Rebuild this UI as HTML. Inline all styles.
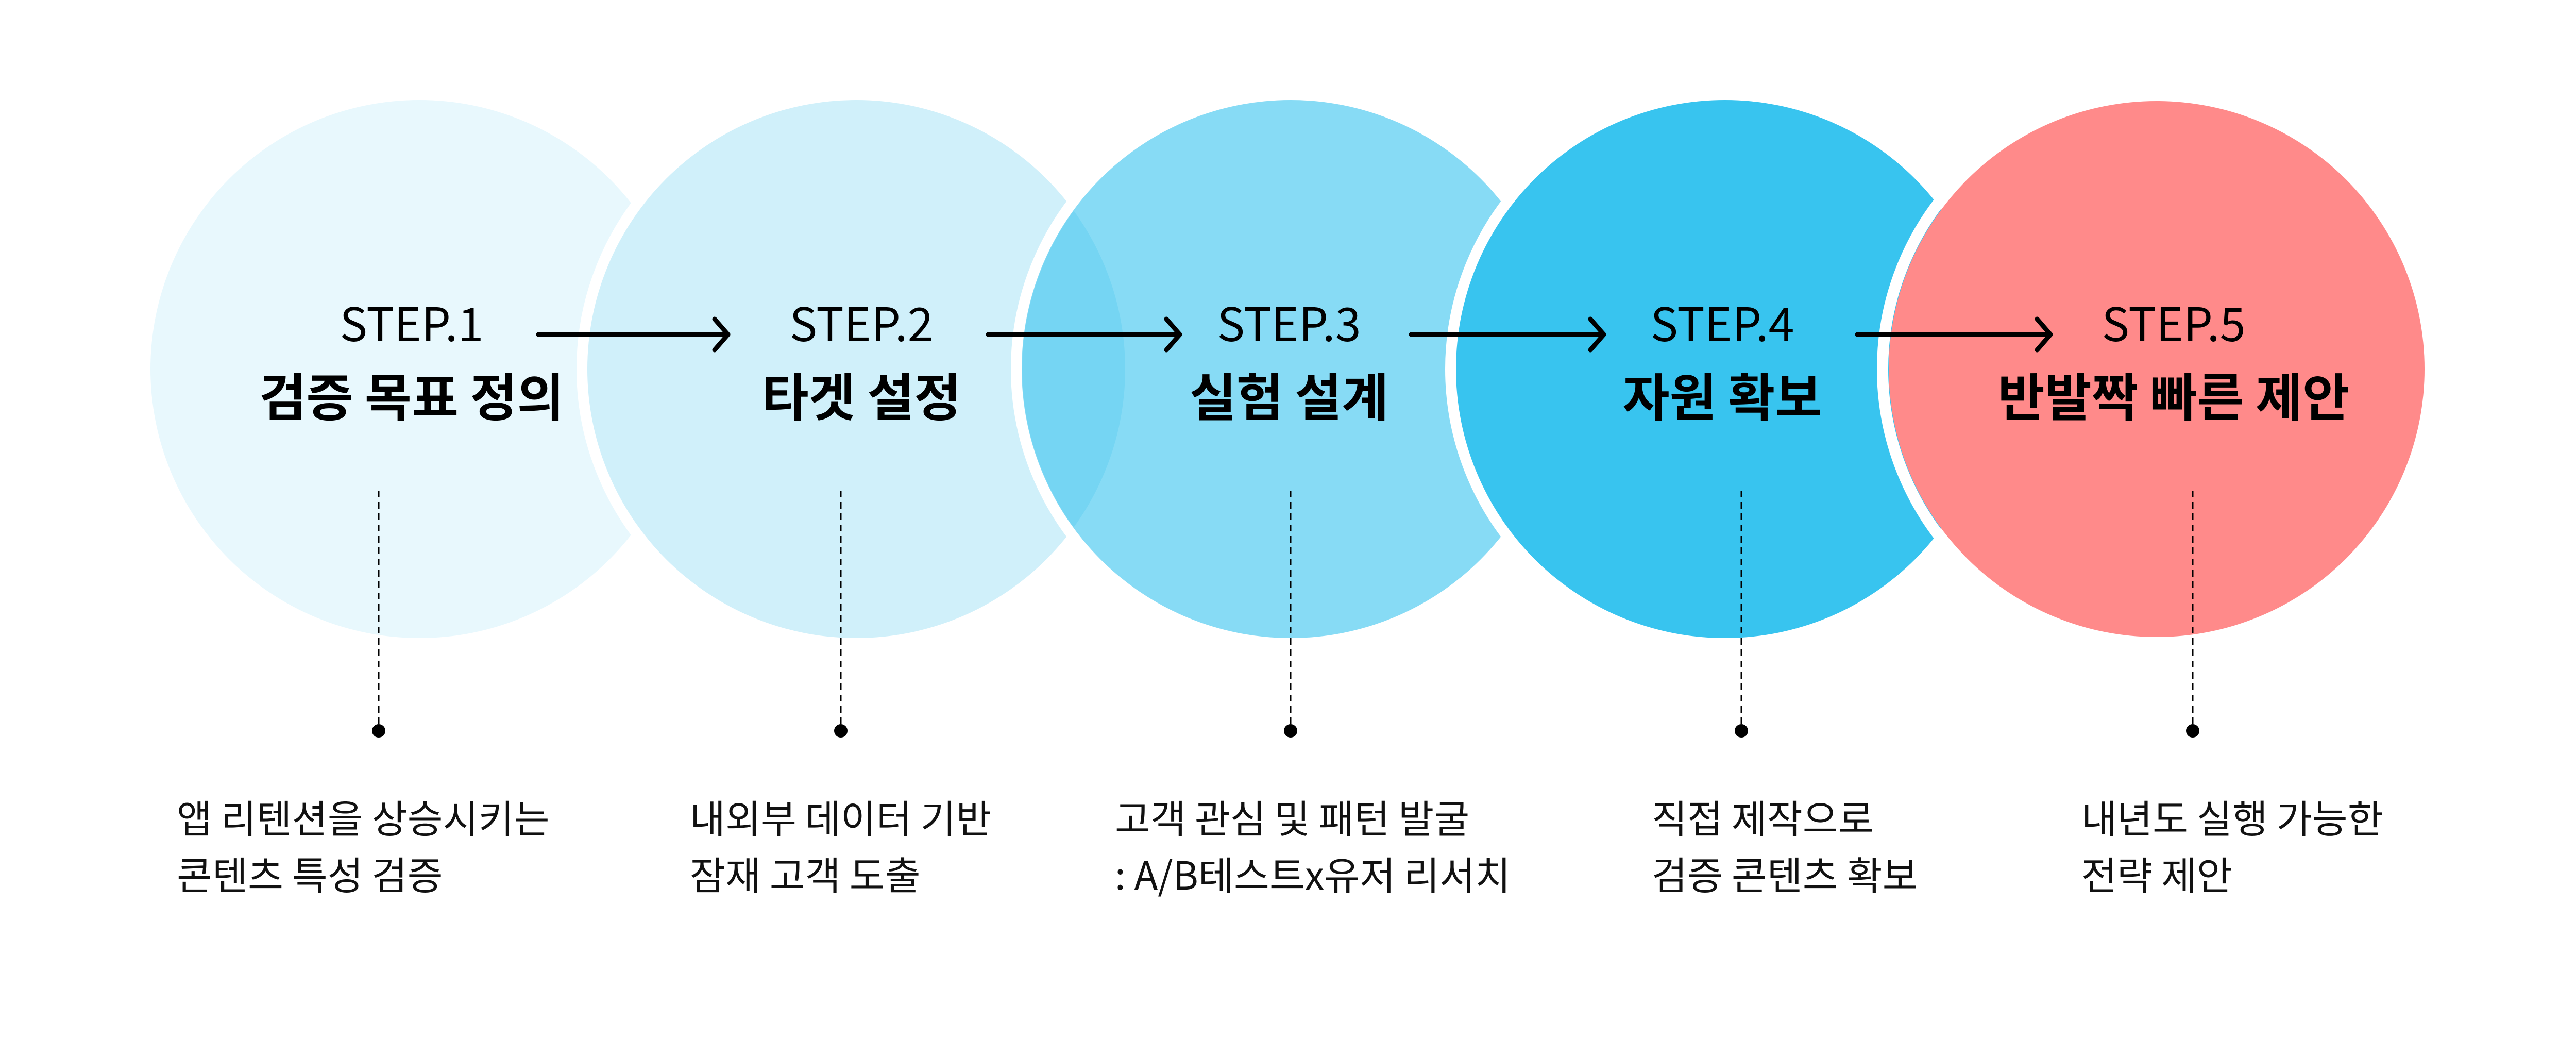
<!DOCTYPE html>
<html><head><meta charset="utf-8"><style>
html,body{margin:0;padding:0;background:#fff;}
svg{display:block;}
text{font-family:"Liberation Sans","Noto Sans CJK KR",sans-serif;}
.step{font-family:"Noto Sans CJK KR","Liberation Sans",sans-serif;font-weight:400;font-size:90px;fill:#000;}
.title{font-family:"Noto Sans CJK KR","Liberation Sans",sans-serif;font-weight:700;font-size:99px;fill:#000;}
.desc{font-family:"Noto Sans CJK KR","Liberation Sans",sans-serif;font-weight:400;font-size:75px;fill:#111;}
</style></head><body>
<svg width="5012" height="2014" viewBox="0 0 5012 2014" xmlns="http://www.w3.org/2000/svg">
<rect width="5012" height="2014" fill="#fff"/>
<circle cx="814" cy="716" r="522" fill="#e8f8fd"/>
<circle cx="1662" cy="716" r="532" fill="none" stroke="#fff" stroke-width="22"/>
<circle cx="1662" cy="716" r="522" fill="#d0f0fa"/>
<circle cx="2505" cy="716" r="532" fill="none" stroke="#fff" stroke-width="22"/>
<circle cx="2505" cy="716" r="522" fill="rgb(60,197,239)" fill-opacity="0.617"/>
<circle cx="3348" cy="716" r="532" fill="none" stroke="#fff" stroke-width="22"/>
<circle cx="3348" cy="716" r="522" fill="#38c4ef"/>
<circle cx="4186" cy="716" r="532" fill="none" stroke="#fff" stroke-width="22"/>
<circle cx="4186" cy="716" r="520" fill="#ff8a8a"/>

<g stroke="#000" stroke-width="9" fill="none" stroke-linecap="round" stroke-linejoin="round">
<line x1="1045" y1="649" x2="1413" y2="649"/><polyline points="1387,619 1413,649 1387,679"/>
<line x1="1918" y1="649" x2="2290" y2="649"/><polyline points="2264,619 2290,649 2264,679"/>
<line x1="2739" y1="649" x2="3113" y2="649"/><polyline points="3087,619 3113,649 3087,679"/>
<line x1="3605" y1="649" x2="3980" y2="649"/><polyline points="3954,619 3980,649 3954,679"/>
</g>

<g text-anchor="middle">
<text class="step" x="799" y="662">STEP.1</text>
<text class="title" x="799" y="807">검증 목표 정의</text>
<text class="step" x="1672" y="662">STEP.2</text>
<text class="title" x="1672" y="807">타겟 설정</text>
<text class="step" x="2502" y="662">STEP.3</text>
<text class="title" x="2502" y="807">실험 설계</text>
<text class="step" x="3343" y="662">STEP.4</text>
<text class="title" x="3343" y="807">자원 확보</text>
<text class="step" x="4219" y="662">STEP.5</text>
<text class="title" x="4219" y="807">반발짝 빠른 제안</text>
</g>

<g stroke="#000" stroke-width="3" stroke-dasharray="13 9">
<line x1="735" y1="952" x2="735" y2="1405"/>
<line x1="1632" y1="952" x2="1632" y2="1405"/>
<line x1="2505" y1="952" x2="2505" y2="1405"/>
<line x1="3380" y1="952" x2="3380" y2="1405"/>
<line x1="4256" y1="952" x2="4256" y2="1405"/>
</g>
<g fill="#000">
<circle cx="735" cy="1418" r="13"/>
<circle cx="1632" cy="1418" r="13"/>
<circle cx="2505" cy="1418" r="13"/>
<circle cx="3380" cy="1418" r="13"/>
<circle cx="4256" cy="1418" r="13"/>
</g>

<text class="desc" x="343" y="1616">앱 리텐션을 상승시키는</text>
<text class="desc" x="343" y="1726">콘텐츠 특성 검증</text>
<text class="desc" x="1339" y="1616">내외부 데이터 기반</text>
<text class="desc" x="1339" y="1726">잠재 고객 도출</text>
<text class="desc" x="2164" y="1616">고객 관심 및 패턴 발굴</text>
<text class="desc" x="2164" y="1726">: A/B테스트x유저 리서치</text>
<text class="desc" x="3206" y="1616">직접 제작으로</text>
<text class="desc" x="3206" y="1726">검증 콘텐츠 확보</text>
<text class="desc" x="4040" y="1616">내년도 실행 가능한</text>
<text class="desc" x="4040" y="1726">전략 제안</text>
</svg>
</body></html>
